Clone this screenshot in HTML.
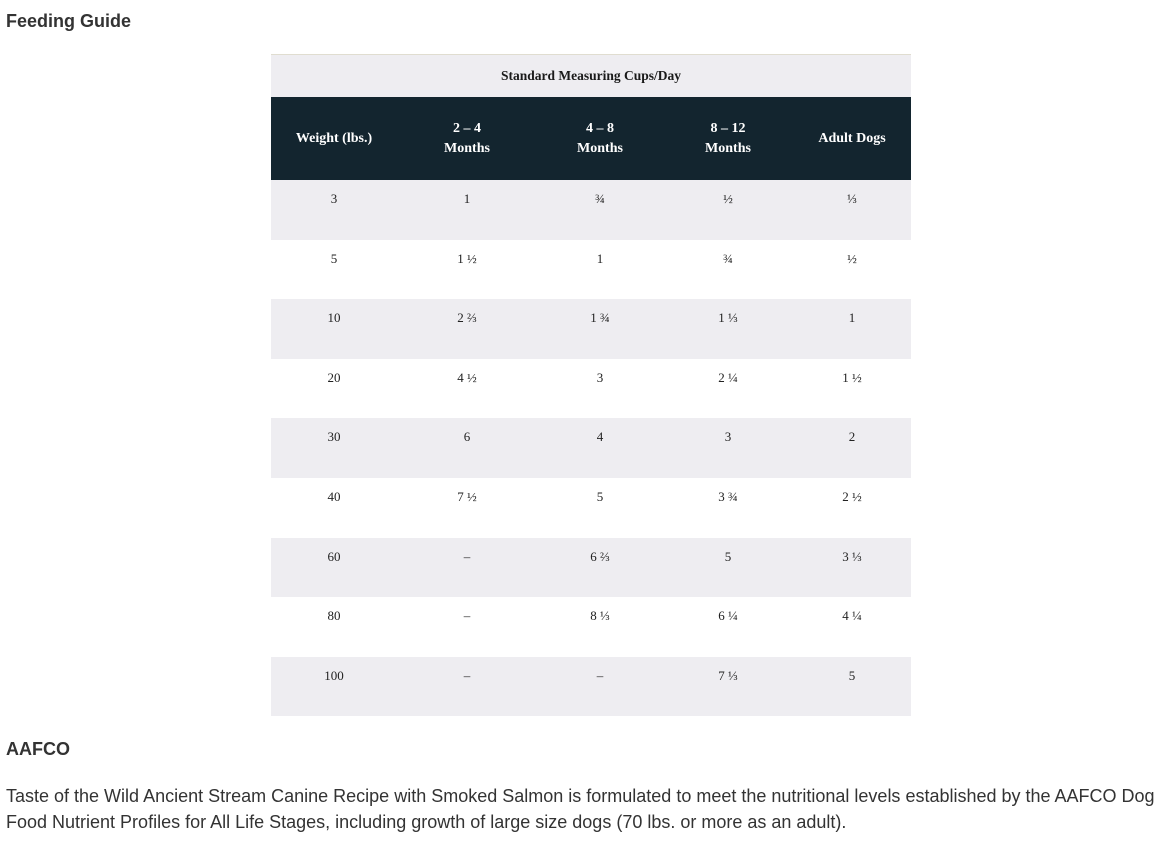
<!DOCTYPE html>
<html><head><meta charset="utf-8"><style>
body{margin:0;width:1172px;height:852px;background:#fff;position:relative;font-family:"Liberation Sans",sans-serif;color:#333;overflow:hidden}
.h{position:absolute;left:6px;font-weight:bold;font-size:18px;color:#333}
.tbl{position:absolute;left:271px;top:54px;width:640px;font-family:"Liberation Serif",serif;font-size:13px}
.cap{height:42px;background:#eeedf1;border-top:1px solid #e0ddd0;text-align:center;font-weight:bold;line-height:42px;color:#1a1a1a;font-size:13.5px}
.hd{height:83px;background:#13252f;color:#fff;font-weight:bold;position:relative}
.row{height:59.6px;position:relative;color:#222}
.row.g{background:#eeedf1}
.c{position:absolute;transform:translateX(-50%);text-align:center;white-space:nowrap}
.hd .c{line-height:20px;top:50%;transform:translate(-50%,-50%);font-size:14px}
.row .c{top:11px}
p{position:absolute;left:6px;top:783px;margin:0;font-size:18px;line-height:26px;color:#333;width:1166px}
</style></head><body>
<div class="h" style="top:11px">Feeding Guide</div>
<div class="tbl">
<div class="cap">Standard Measuring Cups/Day</div>
<div class="hd">
<div class="c" style="left:63px">Weight (lbs.)</div>
<div class="c" style="left:196px">2 – 4<br>Months</div>
<div class="c" style="left:329px">4 – 8<br>Months</div>
<div class="c" style="left:457px">8 – 12<br>Months</div>
<div class="c" style="left:581px">Adult Dogs</div>
</div>
<div id="body"></div>
</div>
<div class="h" style="top:739px">AAFCO</div>
<p>Taste of the Wild Ancient Stream Canine Recipe with Smoked Salmon is formulated to meet the nutritional levels established by the AAFCO Dog Food Nutrient Profiles for All Life Stages, including growth of large size dogs (70 lbs. or more as an adult).</p>
<script>
const weights=["3","5","10","20","30","40","60","80","100"];
const m24=["1","1 ½","2 ⅔","4 ½","6","7 ½","–","–","–"];
const m48=["¾","1","1 ¾","3","4","5","6 ⅔","8 ⅓","–"];
const m812=["½","¾","1 ⅓","2 ¼","3","3 ¾","5","6 ¼","7 ⅓"];
const adult=["⅓","½","1","1 ½","2","2 ½","3 ⅓","4 ¼","5"];
const xs=[63,196,329,457,581];
const b=document.getElementById('body');
weights.forEach((w,i)=>{
 const r=document.createElement('div');
 r.className='row'+(i%2===0?' g':'');
 
 
 [w,m24[i],m48[i],m812[i],adult[i]].forEach((v,j)=>{
  const c=document.createElement('div');
  c.className='c';c.style.left=xs[j]+'px';c.textContent=v;
  
  
  r.appendChild(c);
 });
 b.appendChild(r);
});
</script>
</body></html>
